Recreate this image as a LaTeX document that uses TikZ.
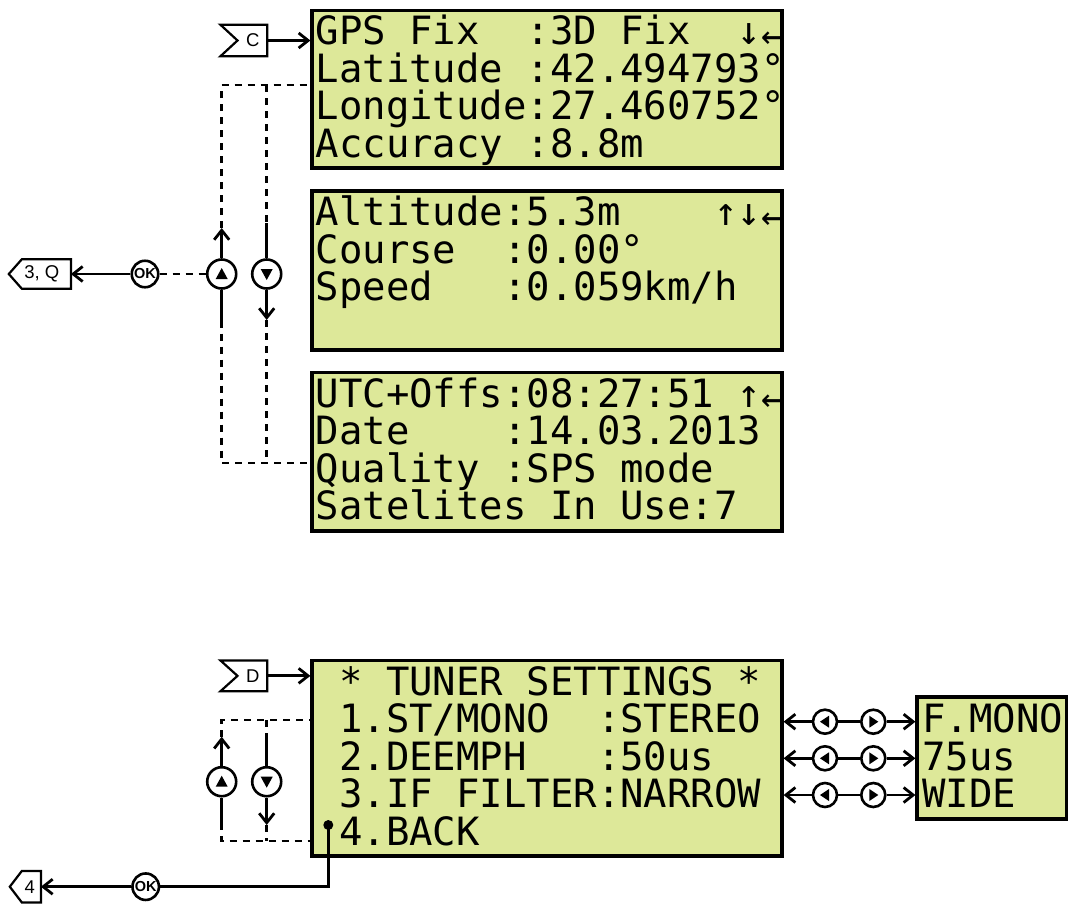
\documentclass[tikz,border=0pt]{standalone}
\usepackage{fontspec}
\setmainfont{Liberation Sans}
\newfontfamily\lcdfont{DejaVu Sans Mono}
\usetikzlibrary{arrows.meta}
\definecolor{lcdbg}{RGB}{221,232,153}
\newcommand\blk{\hphantom{0}}
\begin{document}
\begin{tikzpicture}[x=1pt,y=-1pt,
  lcd/.style={draw=black,line width=3.2pt,fill=lcdbg,inner sep=0pt,rectangle},
  lcdtxt/.style={anchor=base west,inner sep=0pt,font=\lcdfont\fontsize{38.95}{40}\selectfont},
  conn/.style={line width=2.8pt},
  dsh/.style={line width=2.8pt,dash pattern=on 7pt off 6pt},
  arr/.style={line width=2.8pt,-{Straight Barb[length=9.5pt,width=15pt]}},
  btn/.style={circle,draw,line width=2.6pt,fill=white,inner sep=0pt,minimum size=#1},
  okbtn/.style={btn=26.5pt,font=\bfseries\fontsize{14.5}{14.5}\selectfont},
  flag/.style={rectangle,inner sep=0pt,font=\fontsize{18.5}{18.5}\selectfont},
  flagline/.style={line width=2.2pt},
  upbtn/.style={btn=29pt,path picture={\fill[black] ([shift={(0pt,6pt)}]path picture bounding box.center) -- ([shift={(6pt,-5pt)}]path picture bounding box.center) -- ([shift={(-6pt,-5pt)}]path picture bounding box.center) -- cycle;}},
  dnbtn/.style={btn=29pt,path picture={\fill[black] ([shift={(0pt,-6pt)}]path picture bounding box.center) -- ([shift={(6pt,5pt)}]path picture bounding box.center) -- ([shift={(-6pt,5pt)}]path picture bounding box.center) -- cycle;}},
  lfbtn/.style={btn=24pt,path picture={\fill[black] ([shift={(-5pt,0pt)}]path picture bounding box.center) -- ([shift={(4pt,6pt)}]path picture bounding box.center) -- ([shift={(4pt,-6pt)}]path picture bounding box.center) -- cycle;}},
  rtbtn/.style={btn=24pt,path picture={\fill[black] ([shift={(5pt,0pt)}]path picture bounding box.center) -- ([shift={(-4pt,6pt)}]path picture bounding box.center) -- ([shift={(-4pt,-6pt)}]path picture bounding box.center) -- cycle;}},
]
\useasboundingbox (0,0) rectangle (1068,903);

% ---------- LCD screens ----------
\node[lcd,minimum width=470pt,minimum height=157.5pt] (s1) at (547,89.25) {};
\node[lcd,minimum width=470pt,minimum height=159pt] (s2) at (547,270.5) {};
\node[lcd,minimum width=470pt,minimum height=158.5pt] (s3) at (547,451.75) {};
\node[lcd,minimum width=470pt,minimum height=195.5pt] (tun) at (547,758.25) {};
\node[lcd,minimum width=149.5pt,minimum height=122pt] (s5) at (991.75,758) {};

% screen 1
\node[lcdtxt] (s1a) at (315.5,44.5) {GPS\blk Fix\blk\blk:3D\blk Fix\blk\blk↓↵};
\node[lcdtxt] (s1b) at (315.5,82) {Latitude\blk:42.494793°};
\node[lcdtxt] (s1c) at (315.5,119.5) {Longitude:27.460752°};
\node[lcdtxt] (s1d) at (315.5,157) {Accuracy\blk:8.8m};
% screen 2
\node[lcdtxt] (s2a) at (315.5,225.5) {Altitude:5.3m\blk\blk\blk\blk↑↓↵};
\node[lcdtxt] (s2b) at (315.5,263) {Course\blk\blk:0.00°};
\node[lcdtxt] (s2c) at (315.5,300.5) {Speed\blk\blk\blk:0.059km/h};
% screen 3
\node[lcdtxt] (s3a) at (315.5,407) {UTC+Offs:08:27:51\blk↑↵};
\node[lcdtxt] (s3b) at (315.5,444.5) {Date\blk\blk\blk\blk:14.03.2013};
\node[lcdtxt] (s3c) at (315.5,482) {Quality\blk:SPS\blk mode};
\node[lcdtxt] (s3d) at (315.5,519.5) {Satelites\blk In\blk Use:7};
% tuner
\node[lcdtxt] (t1) at (315.5,695) {\blk*\blk TUNER\blk SETTINGS\blk*};
\node[lcdtxt] (t2) at (315.5,732.5) {\blk 1.ST/MONO\blk\blk:STEREO};
\node[lcdtxt] (t3) at (315.5,770) {\blk 2.DEEMPH\blk\blk\blk:50us};
\node[lcdtxt] (t4) at (315.5,807.5) {\blk 3.IF\blk FILTER:NARROW};
\node[lcdtxt] (t5) at (315.5,845) {\blk 4.BACK};
% options screen
\node[lcdtxt] (o1) at (922,732.5) {F.MONO};
\node[lcdtxt] (o2) at (922,770) {75us};
\node[lcdtxt] (o3) at (922,807.5) {WIDE};

% ---------- flags ----------
\node[flag,minimum width=46.3pt,minimum height=31pt] (fc) at (243.85,40.5) {\hspace*{18pt}C};
\draw[flagline] (fc.north west) -- (fc.north east) -- (fc.south east) -- (fc.south west) -- ([xshift=17pt]fc.west) -- cycle;
\node[flag,minimum width=46.3pt,minimum height=30.3pt] (fd) at (243.85,675.85) {\hspace*{18pt}D};
\draw[flagline] (fd.north west) -- (fd.north east) -- (fd.south east) -- (fd.south west) -- ([xshift=17pt]fd.west) -- cycle;
\node[flag,minimum width=61.7pt,minimum height=29pt] (fq) at (39.85,274) {\hspace*{4pt}3, Q};
\draw[flagline] ([xshift=13pt]fq.north west) -- (fq.north east) -- (fq.south east) -- ([xshift=13pt]fq.south west) -- (fq.west) -- cycle;
\node[flag,minimum width=30.7pt,minimum height=31pt] (f4) at (25.35,886.7) {\hspace*{9pt}4};
\draw[flagline] ([xshift=12pt]f4.north west) -- (f4.north east) -- (f4.south east) -- ([xshift=12pt]f4.south west) -- (f4.west) -- cycle;

\draw[arr] (fc) -- (fc -| s1.west);
\draw[arr] (fd) -- (fd -| tun.west);

% ---------- GPS navigation ----------
\node[okbtn] (ok1) at (145,274) {OK};
\node[upbtn] (up1) at (221.7,274) {};
\node[dnbtn] (dn1) at (266.7,274) {};
\coordinate (uA) at (221.7,85);
\coordinate (uB) at (221.7,228);
\coordinate (uC) at (221.7,320.7);
\coordinate (uD) at (221.7,463);
\coordinate (dA) at (266.7,85);
\coordinate (dB) at (266.7,223);
\coordinate (dC) at (266.7,320);
\coordinate (dD) at (266.7,463);
\draw[dsh] (uB) -- (uA) -- (uA -| s1.west);
\draw[arr] (up1) -- (uB);
\draw[conn] (uC) -- (up1);
\draw[dsh] (uC) -- (uD) -- (uD -| s3.west);
\draw[dsh] (dA) -- (dB);
\draw[conn] (dB) -- (dn1);
\draw[arr] (dn1) -- (dC);
\draw[dsh] (dC) -- (dD);
\draw[dsh] (ok1) -- (up1);
\draw[arr] (ok1) -- (fq);

% ---------- tuner navigation ----------
\node[upbtn] (up2) at (221.7,781.7) {};
\node[dnbtn] (dn2) at (266.7,781.7) {};
\coordinate (tA) at (221.7,720);
\coordinate (tB) at (221.7,736.7);
\coordinate (tC) at (221.7,823);
\coordinate (tD) at (221.7,841);
\coordinate (vA) at (266.7,720);
\coordinate (vB) at (266.7,735);
\coordinate (vC) at (266.7,825);
\coordinate (vD) at (266.7,841);
\draw[dsh] (tB) -- (tA) -- (tA -| tun.west);
\draw[arr] (up2) -- (tB);
\draw[conn] (tC) -- (up2);
\draw[dsh] (tC) -- (tD) -- (tD -| tun.west);
\draw[dsh] (vA) -- (vB);
\draw[conn] (vB) -- (dn2);
\draw[arr] (dn2) -- (vC);
\draw[dsh] (vC) -- (vD);

\node[circle,fill=black,inner sep=0pt,minimum size=10pt] (bul) at (328.3,825) {};
\node[okbtn] (ok2) at (145.7,886.7) {OK};
\draw[conn] (bul.center) |- (ok2);
\draw[arr] (ok2) -- (f4);

% ---------- left / right buttons ----------
\foreach \i/\yy in {1/721.7,2/758.3,3/795}{
  \node[lfbtn] (lf\i) at (825,\yy) {};
  \node[rtbtn] (rt\i) at (873.3,\yy) {};
  \draw[arr] (lf\i) -- (lf\i -| tun.east);
  \draw[conn] (lf\i) -- (rt\i);
  \draw[arr] (rt\i) -- (rt\i -| s5.west);
}
\end{tikzpicture}
\end{document}
